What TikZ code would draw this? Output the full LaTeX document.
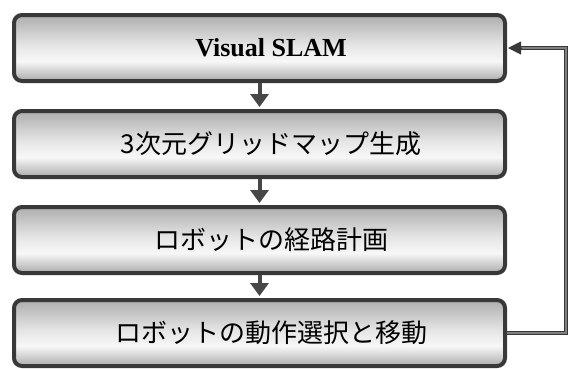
\documentclass[tikz,border=0pt]{standalone}
\usepackage{fontspec}
\setmainfont{Liberation Serif}
\newfontfamily\jpfont{Noto Sans CJK JP}
\usetikzlibrary{arrows.meta}
\pgfdeclareverticalshading{boxshade}{100bp}{color(0bp)=(black!33); color(25bp)=(black!33); color(40bp)=(black!3); color(52bp)=(black!10); color(75bp)=(black!32); color(100bp)=(black!32)}
\tikzset{
  stepbox/.style={rounded corners=8pt, draw=black!78, line width=4pt, shading=boxshade,
    minimum width=491pt, minimum height=66pt, inner sep=0pt,
    font=\fontsize{26}{30}\selectfont},
  downarrow/.style={draw=black!72, line width=4pt, -{Triangle[width=18pt,length=13pt]}, shorten >=2pt},
}
\begin{document}
\begin{tikzpicture}[x=1pt,y=-1pt]
\useasboundingbox (0,0) rectangle (569,368);
\node[stepbox] (b1) at (259.5,48) {\hspace*{23pt}\textbf{Visual SLAM}};
\node[stepbox] (b2) at (259.5,144) {\hspace*{23pt}\jpfont 3次元グリッドマップ生成};
\node[stepbox] (b3) at (259.5,240) {\hspace*{23pt}\jpfont ロボットの経路計画};
\node[stepbox] (b4) at (259.5,333) {\hspace*{23pt}\jpfont ロボットの動作選択と移動};
\draw[downarrow] (b1.south) -- (b2.north);
\draw[downarrow] (b2.south) -- (b3.north);
\draw[downarrow] (b3.south) -- (b4.north);
\coordinate (fb) at (566,190);
\draw[black!78, line width=4pt] (b4.east) -- (fb |- b4.east) -- (fb |- b1.east) -- ([xshift=12pt]b1.east);
\draw[black!50, line width=1.6pt] (b4.east) -- (fb |- b4.east) -- (fb |- b1.east) -- ([xshift=12pt]b1.east);
\draw[draw=black!78, fill=black!60, line width=1pt, -{Triangle[width=13pt,length=13pt]}] ([xshift=14pt]b1.east) -- ([xshift=1pt]b1.east);
\end{tikzpicture}
\end{document}
